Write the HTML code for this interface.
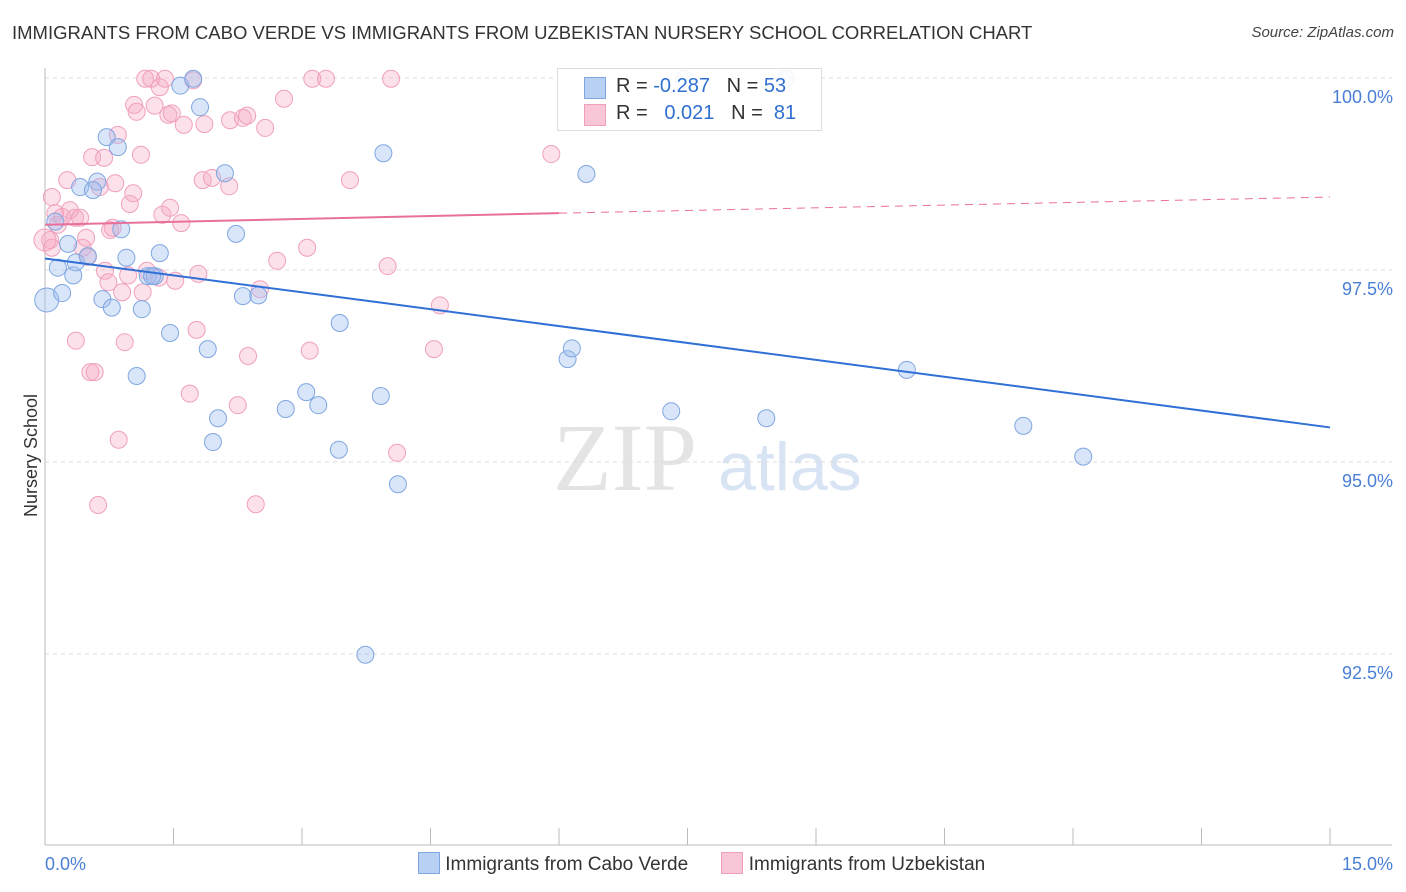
<!DOCTYPE html>
<html><head><meta charset="utf-8"><style>
body{margin:0;background:#fff;font-family:"Liberation Sans",sans-serif;}
#wrap{position:relative;width:1406px;height:892px;overflow:hidden;}
.t{position:absolute;white-space:nowrap;}
</style></head><body>
<div id="wrap">
<div class="t" style="left:12px;top:22px;font-size:18.5px;color:#333;">IMMIGRANTS FROM CABO VERDE VS IMMIGRANTS FROM UZBEKISTAN NURSERY SCHOOL CORRELATION CHART</div>
<div class="t" style="right:12px;top:24px;font-size:15px;color:#444;font-style:italic;">Source: ZipAtlas.com</div>
<div class="t" style="left:-30px;top:445px;font-size:18px;color:#333;transform:rotate(-90deg);">Nursery School</div>
<svg id="svg" width="1406" height="892" style="position:absolute;left:0;top:0"></svg>
<div style="position:absolute;left:557px;top:68px;width:263px;height:61px;border:1px solid #ddd;background:rgba(255,255,255,0.9);font-size:20px;">
 <div style="position:absolute;left:26px;top:8px;width:20px;height:20px;background:#b8d0f4;border:1px solid #7fa7e0"></div>
 <div class="t" style="left:58px;top:6px;color:#333">R = <span style="color:#2f6fd0">-0.287</span>&nbsp;&nbsp; N = <span style="color:#2f6fd0">53</span></div>
 <div style="position:absolute;left:26px;top:35px;width:20px;height:20px;background:#f8c6d6;border:1px solid #f0a0bd"></div>
 <div class="t" style="left:58px;top:33px;color:#333">R = &nbsp;&nbsp;<span style="color:#2f6fd0">0.021</span>&nbsp;&nbsp; N = &nbsp;<span style="color:#2f6fd0">81</span></div>
</div>
<div style="position:absolute;left:418px;top:852px;font-size:19px;color:#333;">
 <span style="display:inline-block;width:20px;height:20px;background:#b8d0f4;border:1px solid #7fa7e0;vertical-align:-4px"></span> Immigrants from Cabo Verde
 <span style="display:inline-block;width:20px;height:20px;background:#f8c6d6;border:1px solid #f0a0bd;vertical-align:-4px;margin-left:28px"></span> Immigrants from Uzbekistan
</div>
</div>
<script>
const yTicks=[100,97.5,95,92.5];
const yTickLabels=["100.0%","97.5%","95.0%","92.5%"];
const xTickLabels=["0.0%","15.0%"];
const blueX=[0.02,0.20,0.15,0.33,0.27,0.12,0.41,0.61,0.56,0.72,0.85,0.89,0.36,0.50,0.67,0.78,0.95,1.07,1.13,1.20,1.28,1.34,1.46,1.58,1.73,1.81,1.90,1.96,2.02,2.10,2.23,2.31,2.49,2.81,3.05,3.19,3.43,3.44,3.74,3.92,3.95,4.12,6.10,6.15,6.32,7.31,7.46,8.42,8.64,10.06,11.42,12.12,1.25];
const blueY=[97.11,97.20,97.53,97.43,97.84,98.13,98.58,98.65,98.54,99.23,99.10,98.03,97.60,97.68,97.12,97.01,97.66,96.12,96.99,97.42,97.42,97.72,96.68,99.90,99.99,99.62,96.47,95.26,95.57,98.76,97.97,97.16,97.17,95.69,95.91,95.74,95.16,96.81,92.49,95.86,99.02,94.71,96.34,96.48,98.75,95.66,99.99,95.57,99.99,96.20,95.47,95.07,97.42];
const pinkX=[0.08,0.12,0.06,0.08,0.15,0.20,0.26,0.29,0.35,0.41,0.44,0.48,0.50,0.36,0.53,0.58,0.55,0.62,0.64,0.69,0.70,0.74,0.76,0.79,0.82,0.85,0.86,0.90,0.93,0.97,0.99,1.03,1.04,1.07,1.12,1.14,1.17,1.19,1.24,1.28,1.33,1.34,1.37,1.40,1.44,1.46,1.48,1.52,1.59,1.62,1.69,1.73,1.77,1.79,1.84,1.86,1.95,2.15,2.16,2.25,2.31,2.36,2.37,2.46,2.51,2.57,2.71,2.79,3.06,3.09,3.12,3.28,3.56,4.00,4.04,4.11,4.54,4.61,5.91,0.0];
const pinkY=[98.45,98.24,97.89,97.79,98.09,98.19,98.67,98.28,98.18,98.18,97.79,97.92,97.67,96.58,96.17,96.17,98.97,94.44,98.58,98.96,97.49,97.34,98.02,98.05,98.63,99.26,95.29,97.21,96.56,97.43,98.36,98.50,99.65,99.56,99.00,97.21,99.99,97.49,99.99,99.64,97.40,99.88,98.22,99.99,99.52,98.31,99.54,97.36,98.11,99.39,95.89,99.97,96.72,97.45,98.67,99.40,98.70,98.59,99.45,95.74,99.48,99.51,96.38,94.45,97.25,99.35,97.62,99.73,97.79,96.45,99.99,99.99,98.67,97.55,99.99,95.12,96.47,97.04,99.01,97.89];
const blueTrendX=[0,15], blueTrendY=[97.65,95.45];
const pinkTrendX=[0,6.0,15], pinkTrendY=[98.09,98.24,98.45];
const X=v=>45+v/15*1285, Y=v=>78+(100-v)*76.8;
const svg=document.getElementById('svg');const NS='http://www.w3.org/2000/svg';
function mk(t,a){const e=document.createElementNS(NS,t);for(const k in a)e.setAttribute(k,a[k]);svg.appendChild(e);return e;}
let w=mk('text',{x:553,y:490,'font-size':96,fill:'#e4e4e4','font-family':'Liberation Serif'});w.textContent='ZIP';


let w2=mk('text',{x:718,y:490,'font-size':68,fill:'#d8e4f4','font-family':'Liberation Sans'});w2.textContent='atlas';


yTicks.forEach((v,i)=>{
 const g=mk('line',{x1:45,x2:1392,y1:Y(v),y2:Y(v),stroke:'#ddd','stroke-dasharray':'4,4'});
 
 
 const t=mk('text',{x:1393,y:Y(v)+25,'text-anchor':'end','font-size':18,fill:'#4a7fd6'});t.textContent=yTickLabels[i];
 
 
});
const ax=mk('line',{x1:45,x2:45,y1:68,y2:845,stroke:'#bbb'});


const bx=mk('line',{x1:45,x2:1392,y1:845,y2:845,stroke:'#bbb'});


for(let i=0;i<=10;i++){const x=45+i*128.5;const tk=mk('line',{x1:x,x2:x,y1:828,y2:845,stroke:'#bbb'});
 
 }
[[0,'start',45],[1,'end',1393]].forEach(([i,a,x])=>{const t=mk('text',{x:x,y:870,'text-anchor':a,'font-size':18,fill:'#4a7fd6'});t.textContent=xTickLabels[i];
 
 });
pinkX.forEach((v,i)=>{const c=mk('circle',{cx:X(v),cy:Y(pinkY[i]),r:v===0?11:8.5,fill:'rgba(245,170,195,0.35)',stroke:'#f0a0bd','stroke-width':1});
 
 });
blueX.forEach((v,i)=>{const c=mk('circle',{cx:X(v),cy:Y(blueY[i]),r:v<0.05?12:8.5,fill:'rgba(160,190,240,0.4)',stroke:'#7fa7e0','stroke-width':1});
 
 });
const bl=mk('line',{x1:X(blueTrendX[0]),y1:Y(blueTrendY[0]),x2:X(blueTrendX[1]),y2:Y(blueTrendY[1]),stroke:'#2f6fd6','stroke-width':2});


const pl=mk('line',{x1:X(pinkTrendX[0]),y1:Y(pinkTrendY[0]),x2:X(pinkTrendX[1]),y2:Y(pinkTrendY[1]),stroke:'#e8709a','stroke-width':2});


const pd=mk('line',{x1:X(pinkTrendX[1]),y1:Y(pinkTrendY[1]),x2:X(pinkTrendX[2]),y2:Y(pinkTrendY[2]),stroke:'#e8709a','stroke-width':1,'stroke-dasharray':'8,6'});


</script>
</body></html>
